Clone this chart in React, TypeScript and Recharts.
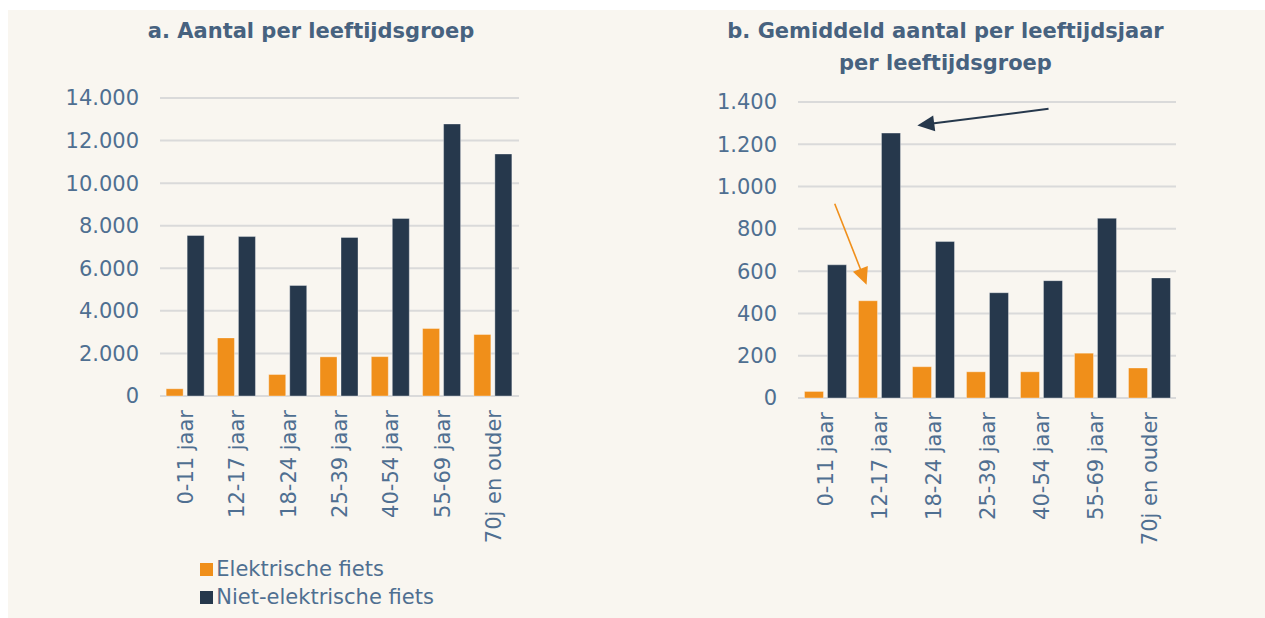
import React from 'react';
import { BarChart, Bar, XAxis, YAxis, CartesianGrid } from 'recharts';

const FONT = '"DejaVu Sans", Verdana, sans-serif';
const BG = '#f9f6f0';
const ORANGE = '#f08f1a';
const NAVY = '#26384c';
const TEXT = '#4f6f91';
const TITLE = '#47627f';
const GRID = '#dadada';

const categories = ['0-11 jaar', '12-17 jaar', '18-24 jaar', '25-39 jaar', '40-54 jaar', '55-69 jaar', '70j en ouder'];
const seriesNames = ['Elektrische fiets', 'Niet-elektrische fiets'];
const seriesColors = [ORANGE, NAVY];

const aantalElektrisch = [340, 2730, 1010, 1840, 1850, 3170, 2890];
const aantalNietElektrisch = [7540, 7490, 5190, 7450, 8340, 12780, 11370];
const gemElektrisch = [31, 460, 148, 124, 124, 212, 142];
const gemNietElektrisch = [630, 1253, 740, 498, 555, 850, 568];

const ticksA = [0, 2000, 4000, 6000, 8000, 10000, 12000, 14000];
const ticksB = [0, 200, 400, 600, 800, 1000, 1200, 1400];

const titleA = 'a. Aantal per leeftijdsgroep';
const titleB1 = 'b. Gemiddeld aantal per leeftijdsjaar';
const titleB2 = 'per leeftijdsgroep';

// annotation arrows in chart b: x in category units (0..7), y in data units
const arrowsB = [
  { fromX: 4.64, fromY: 1368, toX: 2.21, toY: 1289, color: NAVY, width: 2 },
  { fromX: 0.68, fromY: 919, toX: 1.27, toY: 536, color: ORANGE, width: 1.6 },
];

const dataA = categories.map((c, i) => ({ cat: c, e: aantalElektrisch[i], n: aantalNietElektrisch[i] }));
const dataB = categories.map((c, i) => ({ cat: c, e: gemElektrisch[i], n: gemNietElektrisch[i] }));

const fmt = (v: number) => String(v).replace(/\B(?=(\d{3})+(?!\d))/g, '.');

// chart b layout
const B_W = 640;
const B_H = 600;
const B_MARGIN = { top: 92, right: 72, bottom: 62, left: 0 };
const B_YAXIS_W = 190;
const B_XAXIS_H = 150;
const B_MAX = 1400;
const plotB = {
  left: B_MARGIN.left + B_YAXIS_W,
  top: B_MARGIN.top,
  width: B_W - B_MARGIN.left - B_MARGIN.right - B_YAXIS_W,
  height: B_H - B_MARGIN.top - B_MARGIN.bottom - B_XAXIS_H,
};

const RotTick = (props: any) => {
  const { x, y, payload } = props;
  return (
    <text
      x={x}
      y={y}
      transform={`rotate(-90 ${x} ${y})`}
      textAnchor="end"
      dy="0.36em"
      fill={TEXT}
      fontSize={21}
      fontFamily={FONT}
    >
      {payload.value}
    </text>
  );
};

const Arrow = ({ x1, y1, x2, y2, color, width }: any) => {
  const dx = x2 - x1;
  const dy = y2 - y1;
  const len = Math.sqrt(dx * dx + dy * dy) || 1;
  const ux = dx / len;
  const uy = dy / len;
  const hl = 17;
  const hw = 8;
  const bx = x2 - ux * hl;
  const by = y2 - uy * hl;
  const px = -uy;
  const py = ux;
  return (
    <g>
      <line x1={x1} y1={y1} x2={bx + ux * 2} y2={by + uy * 2} stroke={color} strokeWidth={width} />
      <polygon
        points={`${x2},${y2} ${bx + px * hw},${by + py * hw} ${bx - px * hw},${by - py * hw}`}
        fill={color}
      />
    </g>
  );
};

const toPxX = (u: number) => plotB.left + (u * plotB.width) / categories.length;
const toPxY = (v: number) => plotB.top + (1 - v / B_MAX) * plotB.height;

const tickStyle = { fill: TEXT, fontSize: 21, fontFamily: FONT };
const barStroke = 'rgba(255,255,255,0.35)';

export default function App() {
  return (
    <div
      style={{
        position: 'absolute',
        left: 8,
        top: 10,
        width: 1257,
        height: 608,
        background: BG,
        fontFamily: FONT,
        overflow: 'hidden',
      }}
    >
      <div
        style={{
          position: 'absolute',
          left: 0,
          top: 5,
          width: 606,
          textAlign: 'center',
          fontWeight: 'bold',
          fontSize: 21,
          lineHeight: '32px',
          color: TITLE,
          whiteSpace: 'nowrap',
        }}
      >
        {titleA}
      </div>
      <div
        style={{
          position: 'absolute',
          left: 700,
          top: 6,
          width: 475,
          textAlign: 'center',
          fontWeight: 'bold',
          fontSize: 21,
          lineHeight: '31.7px',
          color: TITLE,
          whiteSpace: 'nowrap',
        }}
      >
        <div>{titleB1}</div>
        <div>{titleB2}</div>
      </div>

      <div style={{ position: 'absolute', left: 0, top: 0 }}>
        <BarChart
          width={560}
          height={600}
          data={dataA}
          margin={{ top: 88, right: 49, bottom: 64, left: 0 }}
          barCategoryGap="12%"
          barGap={4}
        >
          <CartesianGrid vertical={false} stroke={GRID} strokeWidth={2} />
          <XAxis
            dataKey="cat"
            axisLine={false}
            tickLine={false}
            tickSize={0}
            tickMargin={14}
            height={150}
            interval={0}
            tick={<RotTick />}
          />
          <YAxis
            width={152}
            domain={[0, 14000]}
            ticks={ticksA}
            tickFormatter={fmt}
            axisLine={false}
            tickLine={false}
            tickSize={0}
            tickMargin={21}
            tick={tickStyle}
          />
          <Bar dataKey="e" name={seriesNames[0]} fill={ORANGE} stroke={barStroke} strokeWidth={1} isAnimationActive={false} />
          <Bar dataKey="n" name={seriesNames[1]} fill={NAVY} stroke={barStroke} strokeWidth={1} isAnimationActive={false} />
        </BarChart>
      </div>

      <div style={{ position: 'absolute', left: 600, top: 0, width: B_W, height: B_H }}>
        <BarChart
          width={B_W}
          height={B_H}
          data={dataB}
          margin={B_MARGIN}
          barCategoryGap="12%"
          barGap={4}
        >
          <CartesianGrid vertical={false} stroke={GRID} strokeWidth={2} />
          <XAxis
            dataKey="cat"
            axisLine={false}
            tickLine={false}
            tickSize={0}
            tickMargin={14}
            height={B_XAXIS_H}
            interval={0}
            tick={<RotTick />}
          />
          <YAxis
            width={B_YAXIS_W}
            domain={[0, B_MAX]}
            ticks={ticksB}
            tickFormatter={fmt}
            axisLine={false}
            tickLine={false}
            tickSize={0}
            tickMargin={21}
            tick={tickStyle}
          />
          <Bar dataKey="e" name={seriesNames[0]} fill={ORANGE} stroke={barStroke} strokeWidth={1} isAnimationActive={false} />
          <Bar dataKey="n" name={seriesNames[1]} fill={NAVY} stroke={barStroke} strokeWidth={1} isAnimationActive={false} />
        </BarChart>
        <svg
          width={B_W}
          height={B_H}
          style={{ position: 'absolute', left: 0, top: 0, pointerEvents: 'none' }}
        >
          {arrowsB.map((a, i) => (
            <Arrow
              key={i}
              x1={toPxX(a.fromX)}
              y1={toPxY(a.fromY)}
              x2={toPxX(a.toX)}
              y2={toPxY(a.toY)}
              color={a.color}
              width={a.width}
            />
          ))}
        </svg>
      </div>

      <div style={{ position: 'absolute', left: 192, top: 546 }}>
        {seriesNames.map((name, i) => (
          <div key={name} style={{ display: 'flex', alignItems: 'center', height: 27.5 }}>
            <div style={{ width: 13, height: 13, background: seriesColors[i], marginRight: 3.3 }} />
            <span style={{ fontSize: 21, color: TEXT, lineHeight: '27.5px', whiteSpace: 'nowrap' }}>{name}</span>
          </div>
        ))}
      </div>
    </div>
  );
}
